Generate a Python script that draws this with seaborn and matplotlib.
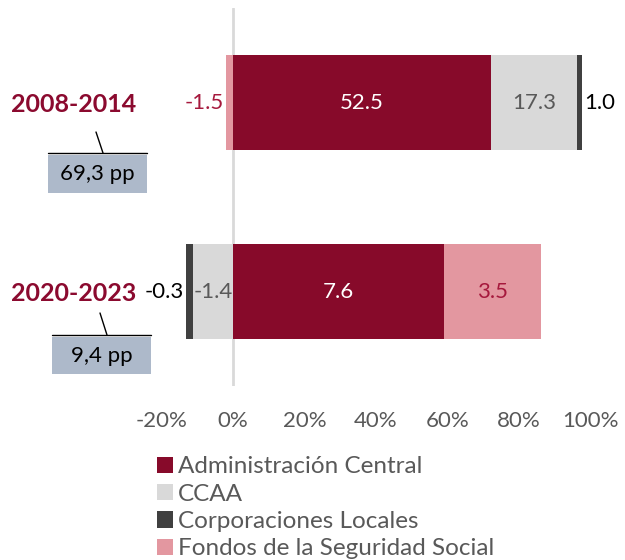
import pandas as pd
import matplotlib
matplotlib.use("Agg")
import matplotlib.pyplot as plt
from matplotlib.patches import Patch, Rectangle
from matplotlib.lines import Line2D
import seaborn as sns

# --- Data ---
periods = ["2008-2014", "2020-2023"]
series = ["Administración Central", "CCAA", "Corporaciones Locales",
          "Fondos de la Seguridad Social"]

# share of the change, in % (bar lengths)
share_ac = [72.3, 59.2]
share_ccaa = [24.0, -11.1]
share_ccll = [1.4, -2.1]
share_ss = [-2.0, 27.2]

# contribution in pp (bar labels)
pp_ac = [52.5, 7.6]
pp_ccaa = [17.3, -1.4]
pp_ccll = [1.0, -0.3]
pp_ss = [-1.5, 3.5]

totals = ["69,3 pp", "9,4 pp"]
x_ticks = [-20, 0, 20, 40, 60, 80, 100]

# --- Style ---
sns.set_theme(style="white")
plt.rcParams["font.family"] = ["Lato", "DejaVu Sans"]

colors = {
    "Administración Central": "#870A2A",
    "CCAA": "#D9D9D9",
    "Corporaciones Locales": "#404040",
    "Fondos de la Seguridad Social": "#E397A0",
}
label_colors = {
    "Administración Central": "white",
    "CCAA": "#595959",
    "Corporaciones Locales": "black",
    "Fondos de la Seguridad Social": "#A6193D",
}
grey_text = "#595959"
wine = "#8B0A2F"

# --- Long table + stacking (positive and negative stacks separately) ---
rows = []
for name, shares, pps in zip(series,
                             [share_ac, share_ccaa, share_ccll, share_ss],
                             [pp_ac, pp_ccaa, pp_ccll, pp_ss]):
    for p, s, v in zip(periods, shares, pps):
        rows.append(dict(period=p, series=name, share=s, pp=v))
df = pd.DataFrame(rows)

df["start"] = 0.0
for p in periods:
    pos = neg = 0.0
    for i in df.index[df["period"] == p]:
        s = df.at[i, "share"]
        if s >= 0:
            df.at[i, "start"] = pos
            pos += s
        else:
            df.at[i, "start"] = neg
            neg += s
df["end"] = df["start"] + df["share"]

# --- Plot ---
fig = plt.figure(figsize=(6.25, 5.6), dpi=100)
ax = fig.add_axes([0.2587, 0.3107, 0.6853, 0.675])

# draw outer segments first, inner ones on top of them
for name in reversed(series):
    sub = df[df["series"] == name]
    sns.barplot(data=sub, x="end", y="period", order=periods, color=colors[name],
                saturation=1, width=0.5, errorbar=None, linewidth=0, ax=ax)

ax.axvline(0, color="#D9D9D9", lw=2, zorder=0.5)

# segment labels
for _, r in df.iterrows():
    yi = periods.index(r["period"])
    txt = f"{r['pp']:.1f}"
    if abs(r["share"]) < 5:
        if r["share"] >= 0:
            xpos, ha = r["end"] + 0.6, "left"
        else:
            xpos, ha = r["end"] - 0.6, "right"
    else:
        xpos, ha = r["start"] + r["share"] / 2, "center"
    ax.text(xpos, yi, txt, ha=ha, va="center", fontsize=16,
            color=label_colors[r["series"]], clip_on=False)

ax.set_xlim(-20, 100)
ax.set_xticks(x_ticks)
ax.set_xticklabels([f"{t}%" for t in x_ticks])
ax.tick_params(axis="x", length=0, pad=18, labelsize=16, labelcolor=grey_text)
ax.tick_params(axis="y", length=0, pad=18)
for lab in ax.get_yticklabels():
    lab.set_fontsize(18)
    lab.set_fontweight("bold")
    lab.set_color(wine)
ax.set_xlabel("")
ax.set_ylabel("")
sns.despine(ax=ax, left=True, bottom=True)

# total boxes below the period labels (figure pixel coordinates)
W, H = 625, 560
boxes = [(48, 155, 99, 38, 96, 132), (52, 337, 99, 37, 100, 313)]
for (bx, by, bw, bh, lx, ly), total in zip(boxes, totals):
    fig.add_artist(Rectangle((bx / W, 1 - (by + bh) / H), bw / W, bh / H,
                             transform=fig.transFigure, facecolor="#ADB9CA",
                             edgecolor="none"))
    fig.text((bx + bw / 2) / W, 1 - (by + bh / 2) / H, total, ha="center",
             va="center", fontsize=16, color="black")
    top = by - 2
    fig.add_artist(Line2D([bx / W, (bx + bw) / W], [1 - top / H, 1 - top / H],
                          transform=fig.transFigure, color="black", lw=1))
    fig.add_artist(Line2D([lx / W, (lx + 7) / W], [1 - ly / H, 1 - top / H],
                          transform=fig.transFigure, color="black", lw=1))

# legend
handles = [Patch(facecolor=colors[s], edgecolor="none") for s in series]
leg = fig.legend(handles, series, loc="upper left", bbox_to_anchor=(0.2512, 0.185),
                 frameon=False, fontsize=17.5, handlelength=0.66, handleheight=0.66,
                 handletextpad=0.2, labelspacing=0.26, borderpad=0,
                 borderaxespad=0)
for t in leg.get_texts():
    t.set_color(grey_text)

fig.savefig("out.png", dpi=100)
